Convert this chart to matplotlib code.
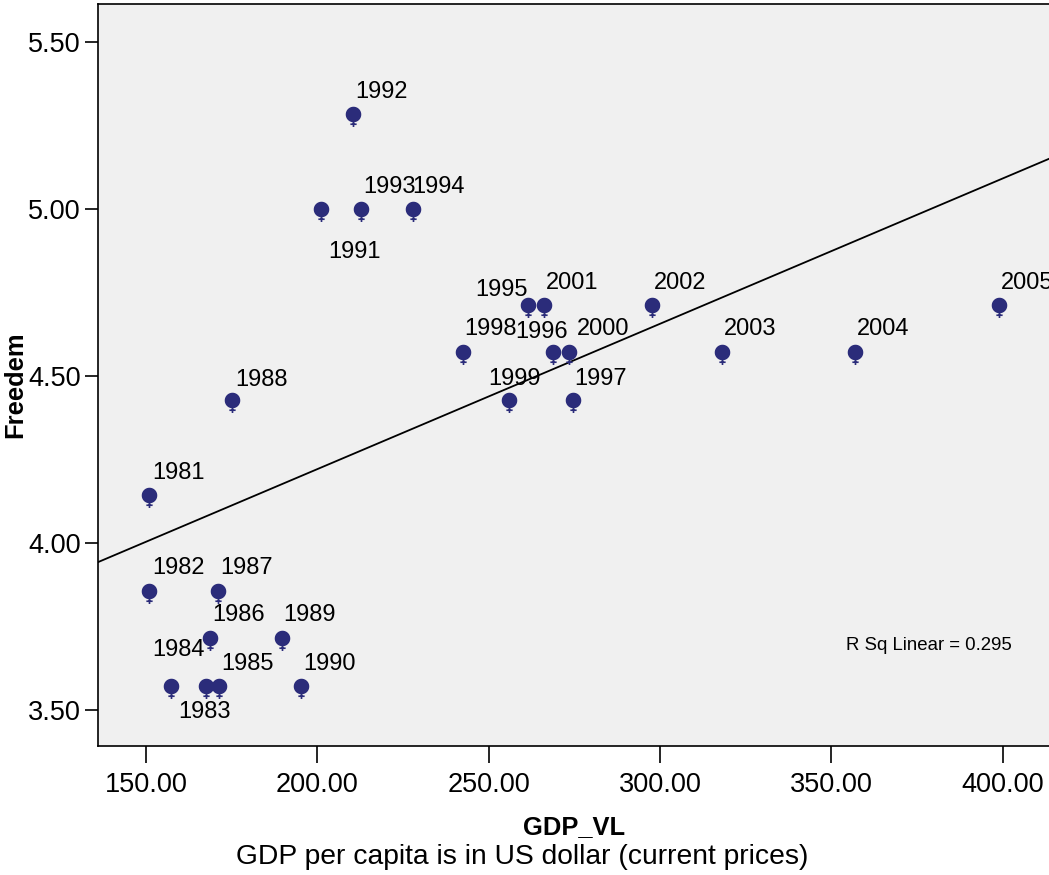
import matplotlib
matplotlib.use('Agg')
from matplotlib import pyplot as plt
from matplotlib.path import Path
import numpy as np

plt.rcParams['font.family'] = ['Liberation Sans', 'DejaVu Sans']

years = [1981, 1982, 1983, 1984, 1985, 1986, 1987, 1988, 1989, 1990,
         1991, 1992, 1993, 1994, 1995, 1996, 1997, 1998, 1999, 2000,
         2001, 2002, 2003, 2004, 2005]
gdp = [150.9, 150.9, 167.5, 157.3, 171.3, 168.7, 171.0, 175.1, 189.6, 195.2,
       201.1, 210.4, 212.8, 227.8, 261.6, 268.9, 274.5, 242.4, 255.8, 273.5,
       266.0, 297.7, 318.1, 356.9, 398.8]
freedom = [4.143, 3.857, 3.571, 3.571, 3.571, 3.714, 3.857, 4.429, 3.714, 3.571,
           5.000, 5.286, 5.000, 5.000, 4.714, 4.571, 4.429, 4.571, 4.429, 4.571,
           4.714, 4.714, 4.571, 4.571, 4.714]

# label offsets in pixels (left edge of text, vertical centre; up is positive)
offsets = {1981: (3, 22), 1982: (3, 23), 1983: (-28, -26), 1984: (-19, 36),
           1985: (2, 22), 1986: (2, 23), 1987: (2, 23), 1988: (3, 20),
           1989: (2, 23), 1990: (2, 22), 1991: (7, -43), 1992: (2, 22),
           1993: (2, 22), 1994: (0, 22), 1995: (-53, 15), 1996: (-38, 20),
           1997: (2, 21), 1998: (2, 23), 1999: (-20, 21), 2000: (8, 23),
           2001: (2, 22), 2002: (2, 22), 2003: (2, 23), 2004: (2, 23),
           2005: (2, 22)}

# female-sign like marker: filled circle with small cross below
t = np.linspace(0, 2 * np.pi, 40)
verts = list(zip(np.cos(t), np.sin(t)))
codes = [Path.MOVETO] + [Path.LINETO] * (len(verts) - 2) + [Path.CLOSEPOLY]
verts += [(0, -1.0), (0, -1.8), (-0.45, -1.4), (0.45, -1.4)]
codes += [Path.MOVETO, Path.LINETO, Path.MOVETO, Path.LINETO]
fem = Path(verts, codes)

navy = '#2b2c7a'

fig = plt.figure(figsize=(10.49, 8.75), dpi=100)
ax = fig.add_axes([98 / 1049, 129 / 875, 951 / 1049, 742 / 875])
ax.set_facecolor('#f0f0f0')

x0, x1 = 136.0, 413.5
ax.set_xlim(x0, x1)
ax.set_ylim(3.392, 5.614)

# linear fit
b, a = np.polyfit(gdp, freedom, 1)
xx = np.array([x0, x1])
ax.plot(xx, a + b * xx, color='black', lw=1.3, zorder=2)

ax.plot(gdp, freedom, linestyle='none', marker=fem, markersize=18,
        color=navy, markeredgecolor=navy, markeredgewidth=1.2, zorder=3)

for yr, gx, fy in zip(years, gdp, freedom):
    dx, dy = offsets[yr]
    ax.annotate(str(yr), (gx, fy), xytext=(dx, dy), textcoords='offset pixels',
                ha='left', va='center', fontsize=17, color='black', zorder=4)

ax.text(846 / 1049, 1 - 645 / 875, 'R Sq Linear = 0.295',
        transform=fig.transFigure, fontsize=13.4, ha='left', va='center')

ax.set_xticks([150, 200, 250, 300, 350, 400])
ax.set_xticklabels(['150.00', '200.00', '250.00', '300.00', '350.00', '400.00'])
ax.set_yticks([3.5, 4.0, 4.5, 5.0, 5.5])
ax.set_yticklabels(['3.50', '4.00', '4.50', '5.00', '5.50'])
ax.tick_params(axis='x', length=12, width=1.2, labelsize=19.5, pad=7)
ax.tick_params(axis='y', length=9.5, width=1.2, labelsize=19.5, pad=3)
ax.spines['right'].set_visible(False)
for s in ['left', 'bottom', 'top']:
    ax.spines[s].set_linewidth(1.2)

fig.text(574 / 1049, 1 - 827 / 875, 'GDP_VL', ha='center', va='center',
         fontsize=18.4, fontweight='bold')
fig.text(522 / 1049, 1 - 857 / 875, 'GDP per capita is in US dollar (current prices)',
         ha='center', va='center', fontsize=20.3)
fig.text(15 / 1049, 1 - 385 / 875, 'Freedem', ha='center', va='center',
         rotation=90, fontsize=18.4, fontweight='bold')

fig.savefig('out.png', dpi=100)
